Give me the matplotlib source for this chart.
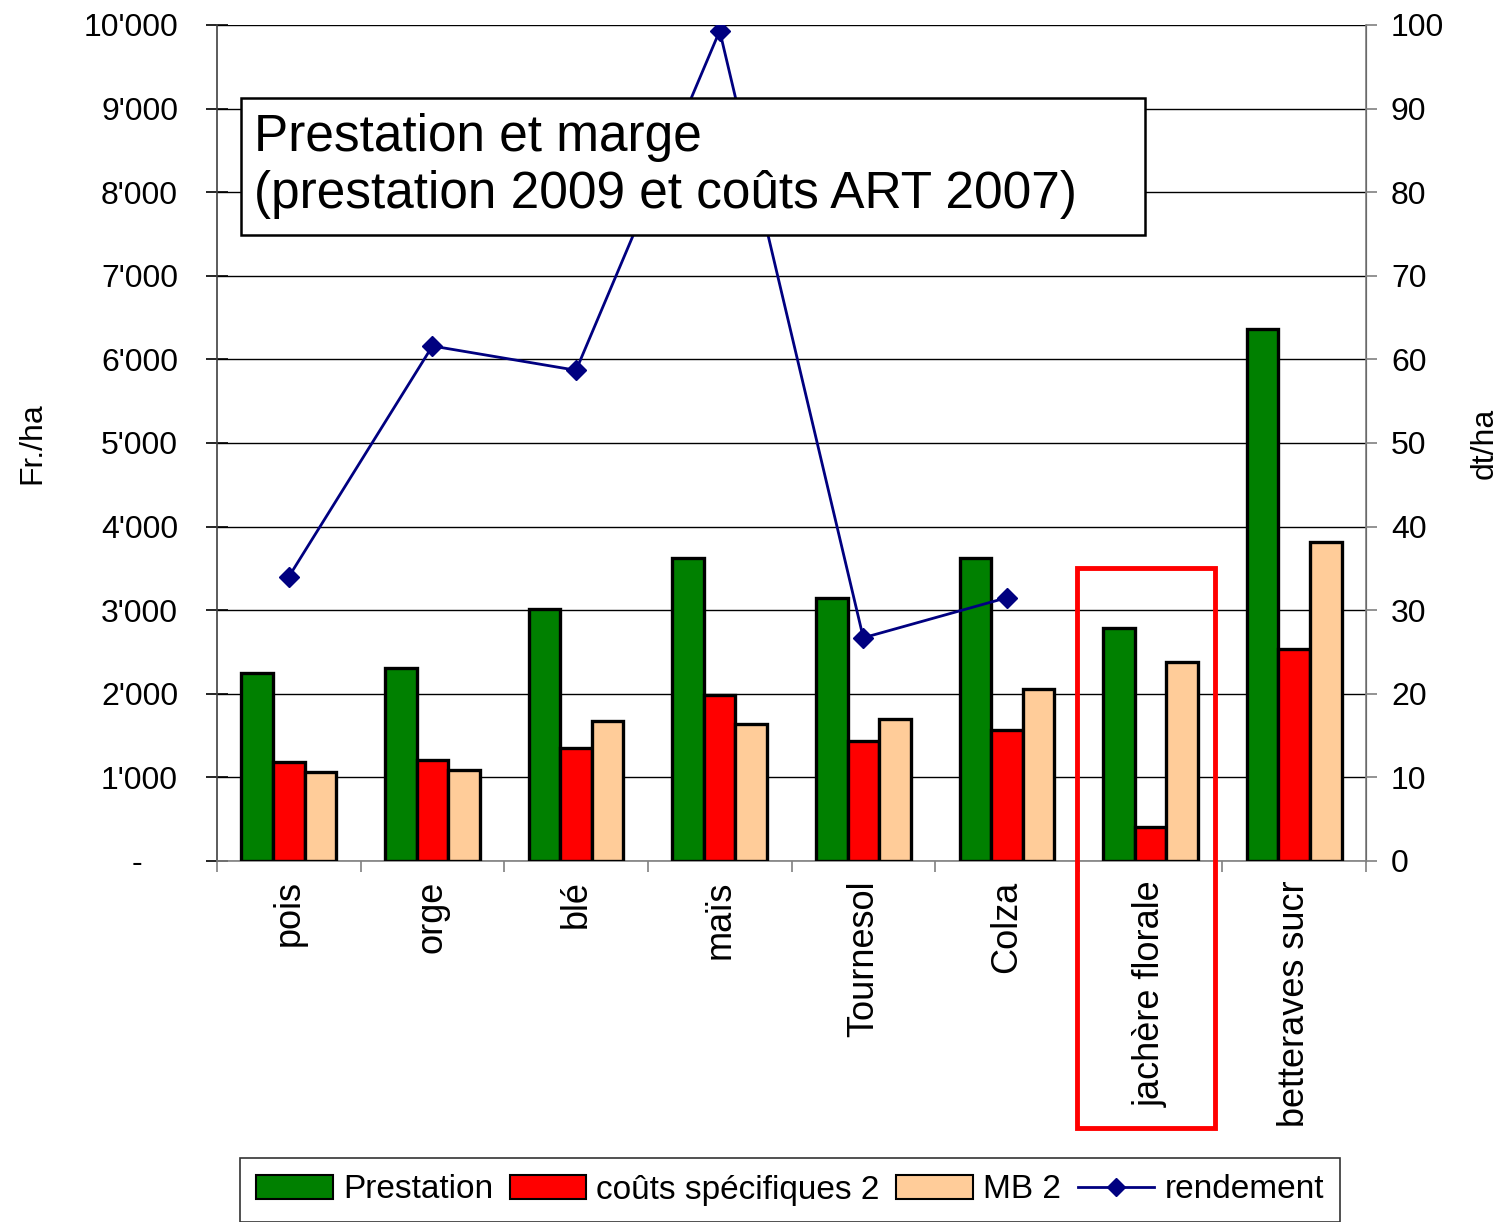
import numpy as np
import matplotlib
matplotlib.use("Agg")
import matplotlib.pyplot as plt
from matplotlib.patches import Rectangle
from matplotlib.lines import Line2D
from matplotlib.ticker import FuncFormatter, FixedLocator

plt.rcParams['font.family'] = ['Liberation Sans', 'DejaVu Sans']

categories = ["pois", "orge", "blé", "maïs", "Tournesol", "Colza", "jachère florale", "betteraves sucr"]
prestation = [2250, 2310, 3020, 3630, 3150, 3630, 2790, 6360]
couts = [1190, 1210, 1350, 1990, 1440, 1570, 410, 2540]
mb = [1060, 1090, 1670, 1640, 1700, 2060, 2380, 3820]
rendement = [34.0, 61.6, 58.7, 99.3, 26.7, 31.5, np.nan, np.nan]

series_labels = ["Prestation", "coûts spécifiques 2", "MB 2", "rendement"]
title_text = "Prestation et marge\n(prestation 2009 et coûts ART 2007)"

W, H = 1503, 1222
fig = plt.figure(figsize=(W / 100, H / 100), dpi=100)
ax = fig.add_axes([217 / W, 1 - 861 / H, (1366 - 217) / W, (861 - 25) / H])
ax2 = ax.twinx()

x = np.arange(len(categories))
bw = 0.22
cols = ["#008000", "#FF0000", "#FFCC99"]
for off, vals, c in zip([-bw, 0, bw], [prestation, couts, mb], cols):
    ax.bar(x + off, vals, bw, color=c, edgecolor="black", linewidth=2.4, zorder=3)

ax.set_xlim(-0.5, len(categories) - 0.5)
ax.set_ylim(0, 10000)
ax.set_yticks(np.arange(0, 10001, 1000))
ax.yaxis.set_major_formatter(FuncFormatter(lambda v, p: "-    " if v == 0 else f"{int(v):,}".replace(",", "'")))
ax.grid(axis="y", color="black", linewidth=1.0, zorder=0)
ax.set_axisbelow(True)

ax.xaxis.set_major_locator(FixedLocator(np.arange(-0.5, len(categories), 1.0)))
ax.xaxis.set_minor_locator(FixedLocator(x))
ax.set_xticklabels([""] * (len(categories) + 1))
ax.set_xticks(x, minor=True)
ax.set_xticklabels(categories, minor=True, rotation=90, va="top", ha="center", fontsize=26)
ax.tick_params(axis="x", which="major", direction="out", length=8, color="#808080", width=1.2)
ax.tick_params(axis="x", which="minor", length=0, pad=14)
ax.tick_params(axis="y", direction="inout", length=16, width=1.2, labelsize=23, pad=20)

ax2.set_ylim(0, 100)
ax2.set_yticks(np.arange(0, 101, 10))
ax2.tick_params(axis="y", direction="out", length=8, width=1.2, color="#808080", labelsize=23, pad=10)
ax2.plot(x, rendement, color="#000080", linewidth=2.0, marker="D", markersize=10, zorder=5)

for a in (ax, ax2):
    a.spines["top"].set_visible(False)
ax.spines["left"].set_color("#404040")
ax.spines["bottom"].set_color("#808080")
ax2.spines["right"].set_color("#808080")
ax2.spines["left"].set_visible(False)
ax2.spines["bottom"].set_visible(False)
for s in ["left", "bottom"]:
    ax.spines[s].set_linewidth(1.2)
ax2.spines["right"].set_linewidth(1.2)

ax.set_ylabel("Fr./ha", fontsize=23, va="center")
ax.yaxis.set_label_coords((32 - 217) / (1366 - 217), (861 - 443) / (861 - 25))
ax2.set_ylabel("dt/ha", fontsize=23, rotation=90, va="center")
ax2.yaxis.set_label_coords((1485 - 217) / (1366 - 217), (861 - 443) / (861 - 25))

# title box
fig.patches.append(Rectangle((241 / W, 1 - 235 / H), (1145 - 241) / W, (235 - 98) / H,
                             transform=fig.transFigure, facecolor="white", edgecolor="black",
                             linewidth=1.8, zorder=10))
fig.text(254 / W, 1 - 166 / H, title_text, fontsize=37, ha="left", va="center",
         linespacing=1.2, zorder=11)

# red highlight rectangle
fig.patches.append(Rectangle((1077 / W, 1 - 1128 / H), (1215 - 1077) / W, (1128 - 568) / H,
                             transform=fig.transFigure, facecolor="none", edgecolor="#FF0000",
                             linewidth=3.5, zorder=12))

handles = [Rectangle((0, 0), 1, 1, facecolor=c, edgecolor="black", linewidth=1.5) for c in cols]
handles.append(Line2D([0], [0], color="#000080", linewidth=2, marker="D", markersize=9))
leg = fig.legend(handles, series_labels, loc="center", bbox_to_anchor=(790 / W, 1 - 1190 / H),
                 ncol=4, fontsize=24, frameon=True, fancybox=False, edgecolor="black",
                 handlelength=2.3, handleheight=0.7, handletextpad=0.3, columnspacing=0.5,
                 borderpad=0.5)
leg.get_frame().set_linewidth(1.2)

fig.savefig("out.png", dpi=100)
